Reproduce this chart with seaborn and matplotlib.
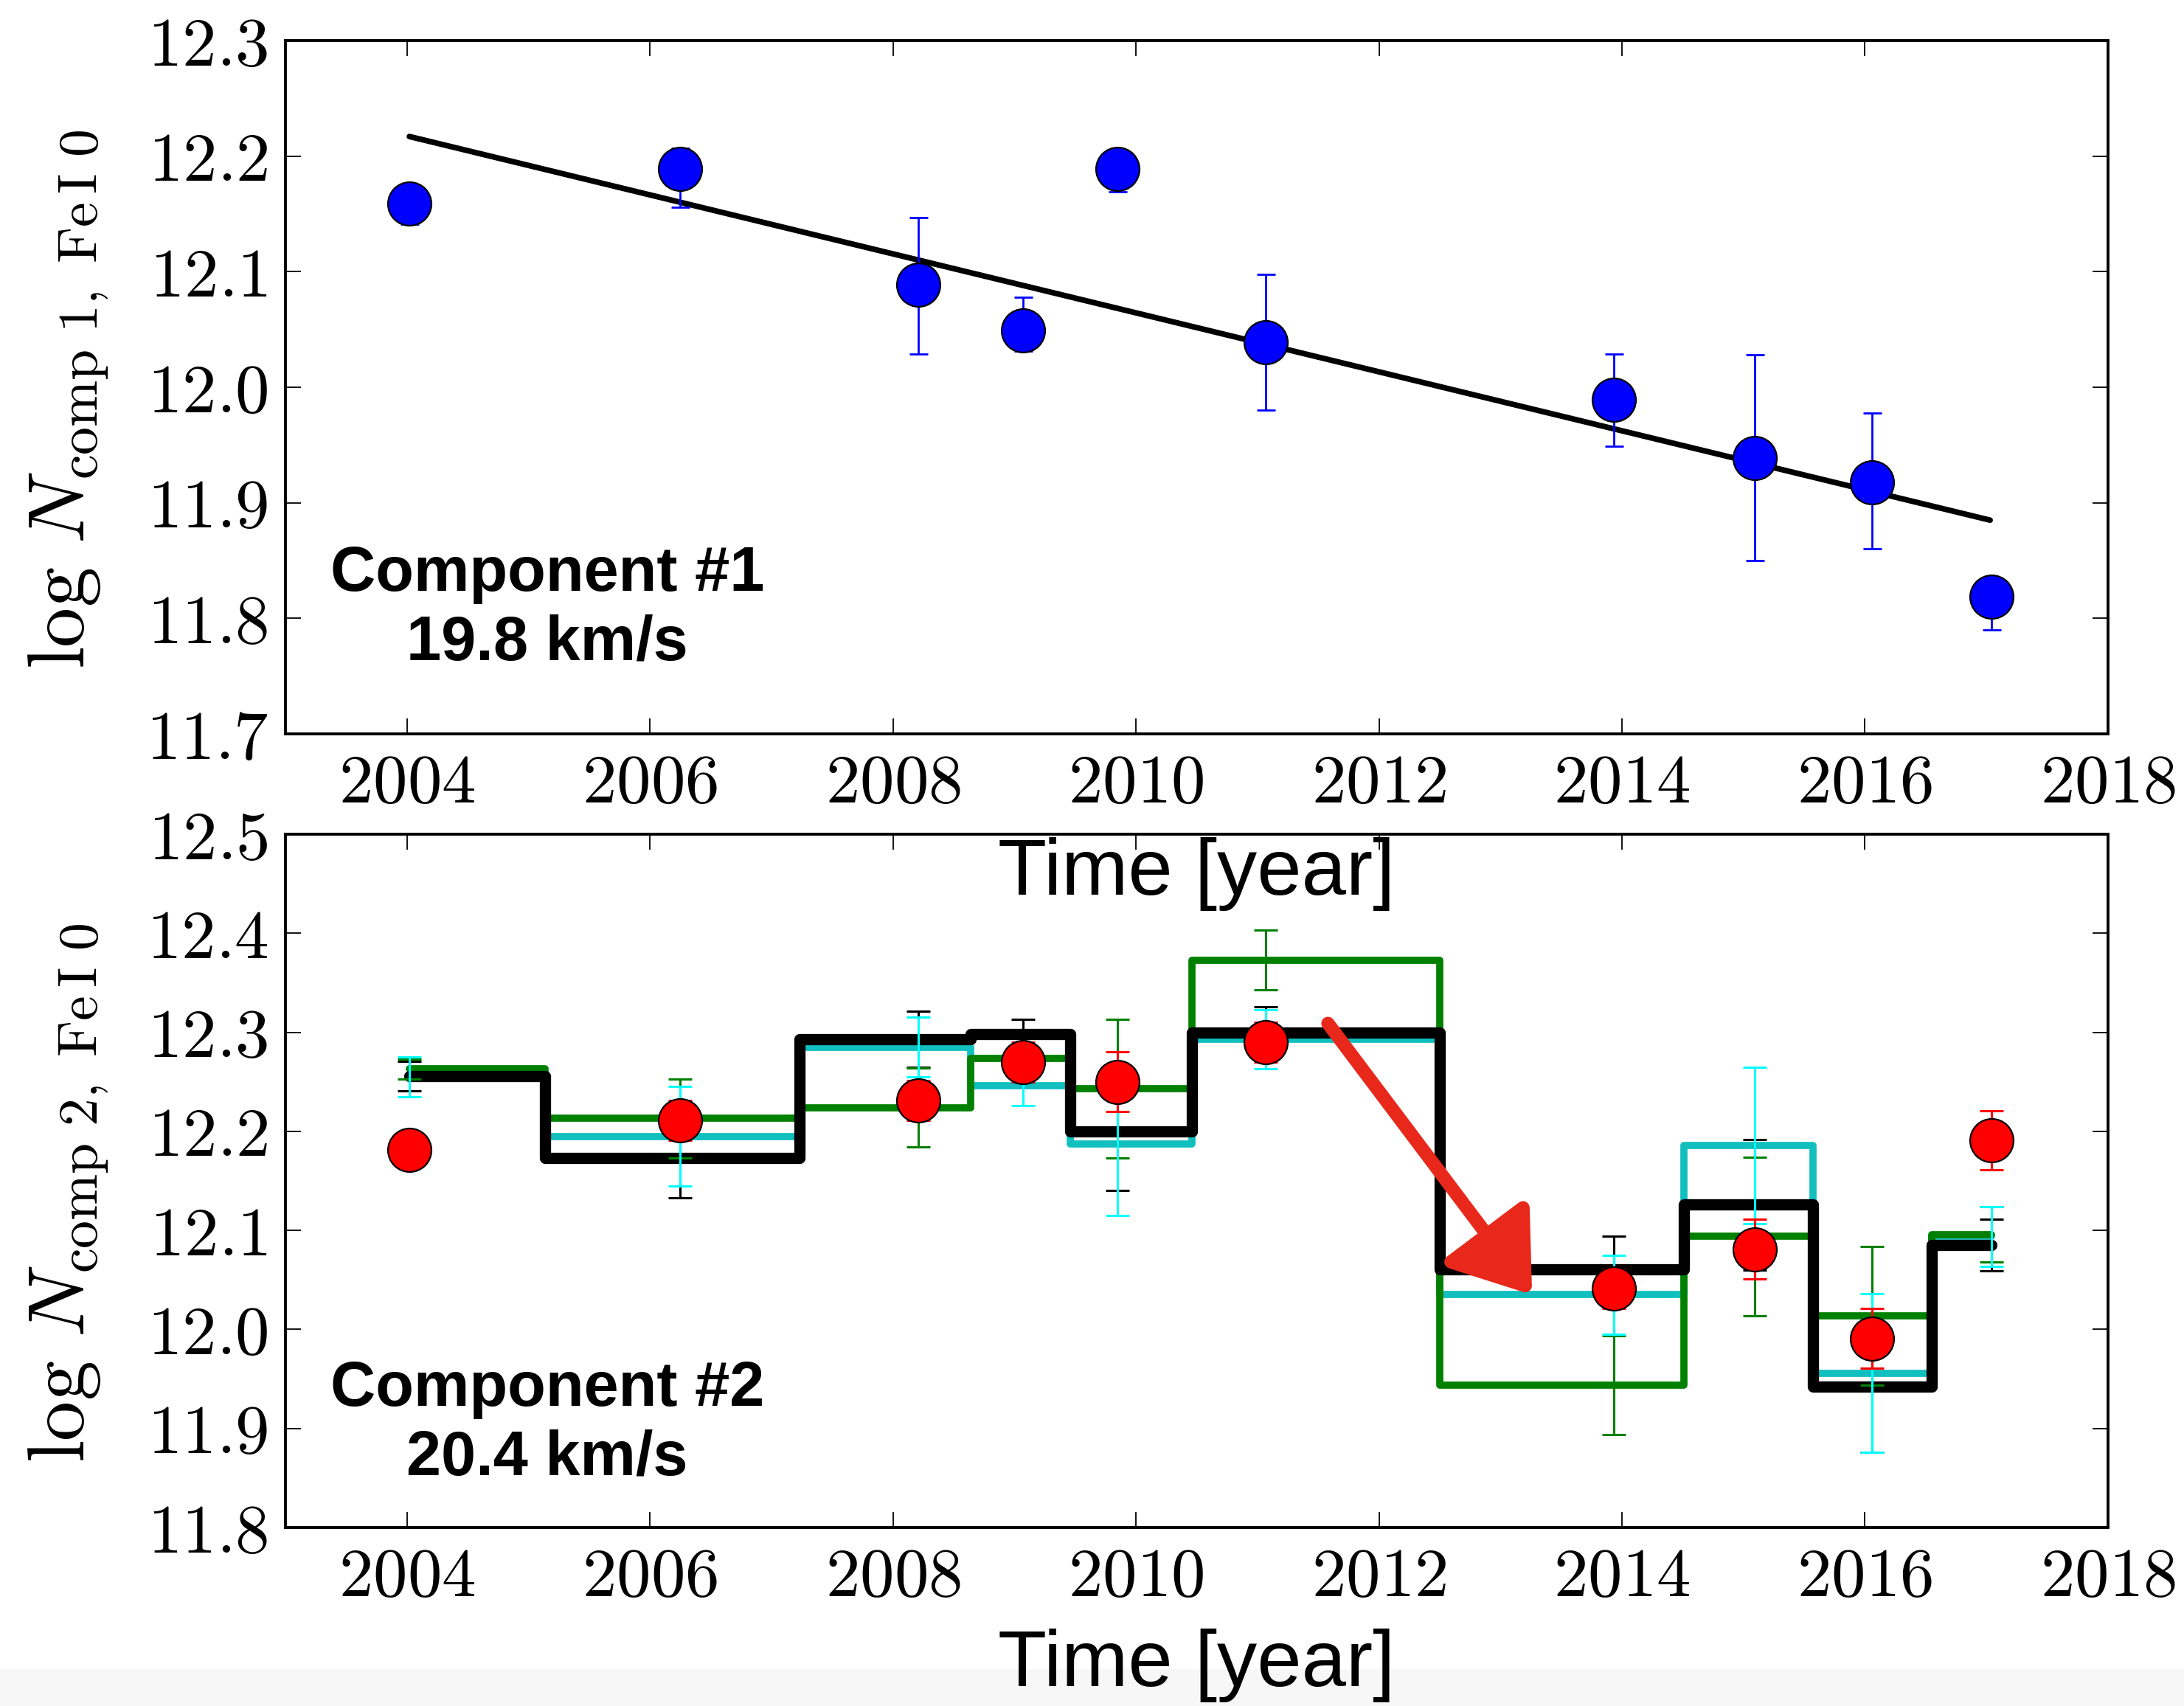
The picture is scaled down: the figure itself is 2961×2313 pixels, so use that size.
"""Fe I column density time series for two absorption components."""

import matplotlib

matplotlib.use("Agg")
import matplotlib.pyplot as plt
import numpy as np
import pandas as pd
import seaborn as sns
from matplotlib.patches import Rectangle
from matplotlib.ticker import FixedLocator, FuncFormatter

# observation epochs (shared by both panels)
years = [2004.02, 2006.25, 2008.21, 2009.07, 2009.85, 2011.07, 2013.93, 2015.09, 2016.06, 2017.04]

# component 1: measurements, asymmetric errors, linear fit
comp1_logn = [12.159, 12.189, 12.089, 12.049, 12.189, 12.039, 11.989, 11.939, 11.918, 11.819]
comp1_err_lo = [0.018, 0.033, 0.060, 0.018, 0.020, 0.059, 0.040, 0.089, 0.058, 0.029]
comp1_err_hi = [0.012, 0.018, 0.058, 0.029, 0.012, 0.059, 0.040, 0.089, 0.060, 0.012]
fit_years = [2004.02, 2017.03]
fit_logn = [12.217, 11.885]

# component 2: measurements and three step models
comp2_logn = [12.181, 12.211, 12.231, 12.270, 12.250, 12.290, 12.041, 12.081, 11.991, 12.191]
comp2_err = [0.005, 0.020, 0.020, 0.020, 0.030, 0.020, 0.020, 0.030, 0.030, 0.030]
model_black = [12.256, 12.173, 12.293, 12.298, 12.200, 12.300, 12.061, 12.126, 11.942, 12.085]
model_black_err = [0.015, 0.040, 0.028, 0.015, 0.060, 0.026, 0.033, 0.066, 0.066, 0.026]
model_cyan = [12.255, 12.195, 12.285, 12.246, 12.187, 12.293, 12.035, 12.186, 11.956, 12.094]
model_cyan_err = [0.020, 0.050, 0.030, 0.020, 0.072, 0.030, 0.040, 0.079, 0.080, 0.030]
model_green = [12.263, 12.213, 12.224, 12.274, 12.243, 12.373, 11.944, 12.094, 12.014, 12.096]
model_green_err = [0.010, 0.040, 0.040, 0.010, 0.070, 0.030, 0.050, 0.080, 0.070, 0.028]

# hand-drawn arrow annotation (data coords of lower panel)
arrow_tail = (2011.58, 12.309)
arrow_tip = (2013.26, 12.035)

x_ticks = [2004, 2006, 2008, 2010, 2012, 2014, 2016, 2018]
top_yticks = [11.7, 11.8, 11.9, 12.0, 12.1, 12.2, 12.3]
bot_yticks = [11.8, 11.9, 12.0, 12.1, 12.2, 12.3, 12.4, 12.5]

sns.set_theme(style="ticks")
plt.rcParams["font.family"] = ["Liberation Sans", "DejaVu Sans"]
plt.rcParams["mathtext.fontset"] = "cm"
plt.rcParams["text.color"] = "black"
plt.rcParams["axes.labelcolor"] = "black"
plt.rcParams["xtick.color"] = "black"
plt.rcParams["ytick.color"] = "black"

TICK_FS = 67
LABEL_FS = 78


def style_axes(ax, ylim, yticks, ylabel):
    ax.set_xlim(2003, 2018)
    ax.set_ylim(*ylim)
    ax.xaxis.set_major_locator(FixedLocator(x_ticks))
    ax.yaxis.set_major_locator(FixedLocator(yticks))
    ax.xaxis.set_major_formatter(FuncFormatter(lambda v, _: f"${v:.0f}$"))
    ax.yaxis.set_major_formatter(FuncFormatter(lambda v, _: f"${v:.1f}$"))
    ax.tick_params(axis="both", which="major", direction="in", length=15, width=1.3,
                   top=True, right=True, labelsize=TICK_FS, colors="black")
    ax.tick_params(axis="x", pad=19)
    ax.tick_params(axis="y", pad=17)
    for spine in ax.spines.values():
        spine.set_visible(True)
        spine.set_linewidth(2.8)
        spine.set_color("black")
    ax.set_ylabel(ylabel, fontsize=LABEL_FS, color="black")
    ax.yaxis.set_label_coords(-0.096, 0.483)
    ax.set_xlabel("Time [year]", fontsize=LABEL_FS, color="black")


fig = plt.figure(figsize=(29.61, 23.13), dpi=100, facecolor="white")
fig.patches.append(Rectangle((0, 0), 1, 50 / 2313, transform=fig.transFigure,
                             facecolor="#f7f7f7", edgecolor="none", zorder=-5))

ax1 = fig.add_axes([0.1307, 0.5698, 0.8345, 0.4064])
ax2 = fig.add_axes([0.1307, 0.1046, 0.8345, 0.4064])
ax2.set_facecolor("none")

# ---- top panel: component 1 ----
sns.lineplot(x=fit_years, y=fit_logn, color="black", lw=5.5, ax=ax1, zorder=2, legend=False)
ax1.errorbar(years, comp1_logn, yerr=[comp1_err_lo, comp1_err_hi], fmt="none",
             ecolor="#0000ff", elinewidth=2.0, capsize=9, capthick=2, zorder=3)
sns.scatterplot(x=years, y=comp1_logn, color="#0000ff", s=1800, edgecolor="black",
                linewidth=1.6, ax=ax1, zorder=4, legend=False)
style_axes(ax1, (11.7, 12.3), top_yticks, r"$\log\,N_{\rm comp\ 1,\ Fe\,I\ 0}$")
ax1.xaxis.set_label_coords(0.5, -0.149)
ax1.text(0.1437, 0.180, "Component #1\n19.8 km/s", transform=ax1.transAxes,
         ha="center", va="center", multialignment="center", color="black",
         fontsize=61, fontweight="bold", linespacing=1.22)

# ---- bottom panel: component 2 ----
step_kw = dict(drawstyle="steps-mid", solid_joinstyle="round", legend=False, ax=ax2)
sns.lineplot(x=years, y=model_cyan, color="#11bfbf", lw=7, zorder=2.0, **step_kw)
sns.lineplot(x=years, y=model_green, color="#008000", lw=7, zorder=2.1, **step_kw)
sns.lineplot(x=years, y=model_black, color="black", lw=11, zorder=2.2, **step_kw)

err_kw = dict(fmt="none", elinewidth=2.2, capsize=11.5, capthick=2.2)
ax2.errorbar(years, model_black, yerr=model_black_err, ecolor="black", zorder=3.0, **err_kw)
ax2.errorbar(years, model_green, yerr=model_green_err, ecolor="#008000", zorder=3.1, **err_kw)
ax2.errorbar(years, model_cyan, yerr=model_cyan_err, ecolor="#00ffff", zorder=3.2, **err_kw)
ax2.errorbar(years, comp2_logn, yerr=comp2_err, ecolor="#ff0000", zorder=3.5, **err_kw)
sns.scatterplot(x=years, y=comp2_logn, color="#ff0000", s=1800, edgecolor="black",
                linewidth=1.6, ax=ax2, zorder=4, legend=False)

ax2.annotate("", xy=arrow_tip, xytext=arrow_tail, xycoords="data",
             arrowprops=dict(arrowstyle="-|>,head_length=62,head_width=44",
                             mutation_scale=1, lw=13, color="#e8281a",
                             shrinkA=0, shrinkB=0),
             zorder=6)

style_axes(ax2, (11.8, 12.5), bot_yticks, r"$\log\,N_{\rm comp\ 2,\ Fe\,I\ 0}$")
ax2.xaxis.set_label_coords(0.5, -0.1457)
ax2.text(0.1437, 0.1495, "Component #2\n20.4 km/s", transform=ax2.transAxes,
         ha="center", va="center", multialignment="center", color="black",
         fontsize=61, fontweight="bold", linespacing=1.22)

fig.savefig("out.png", dpi=100, facecolor=fig.get_facecolor())
plt.close(fig)
